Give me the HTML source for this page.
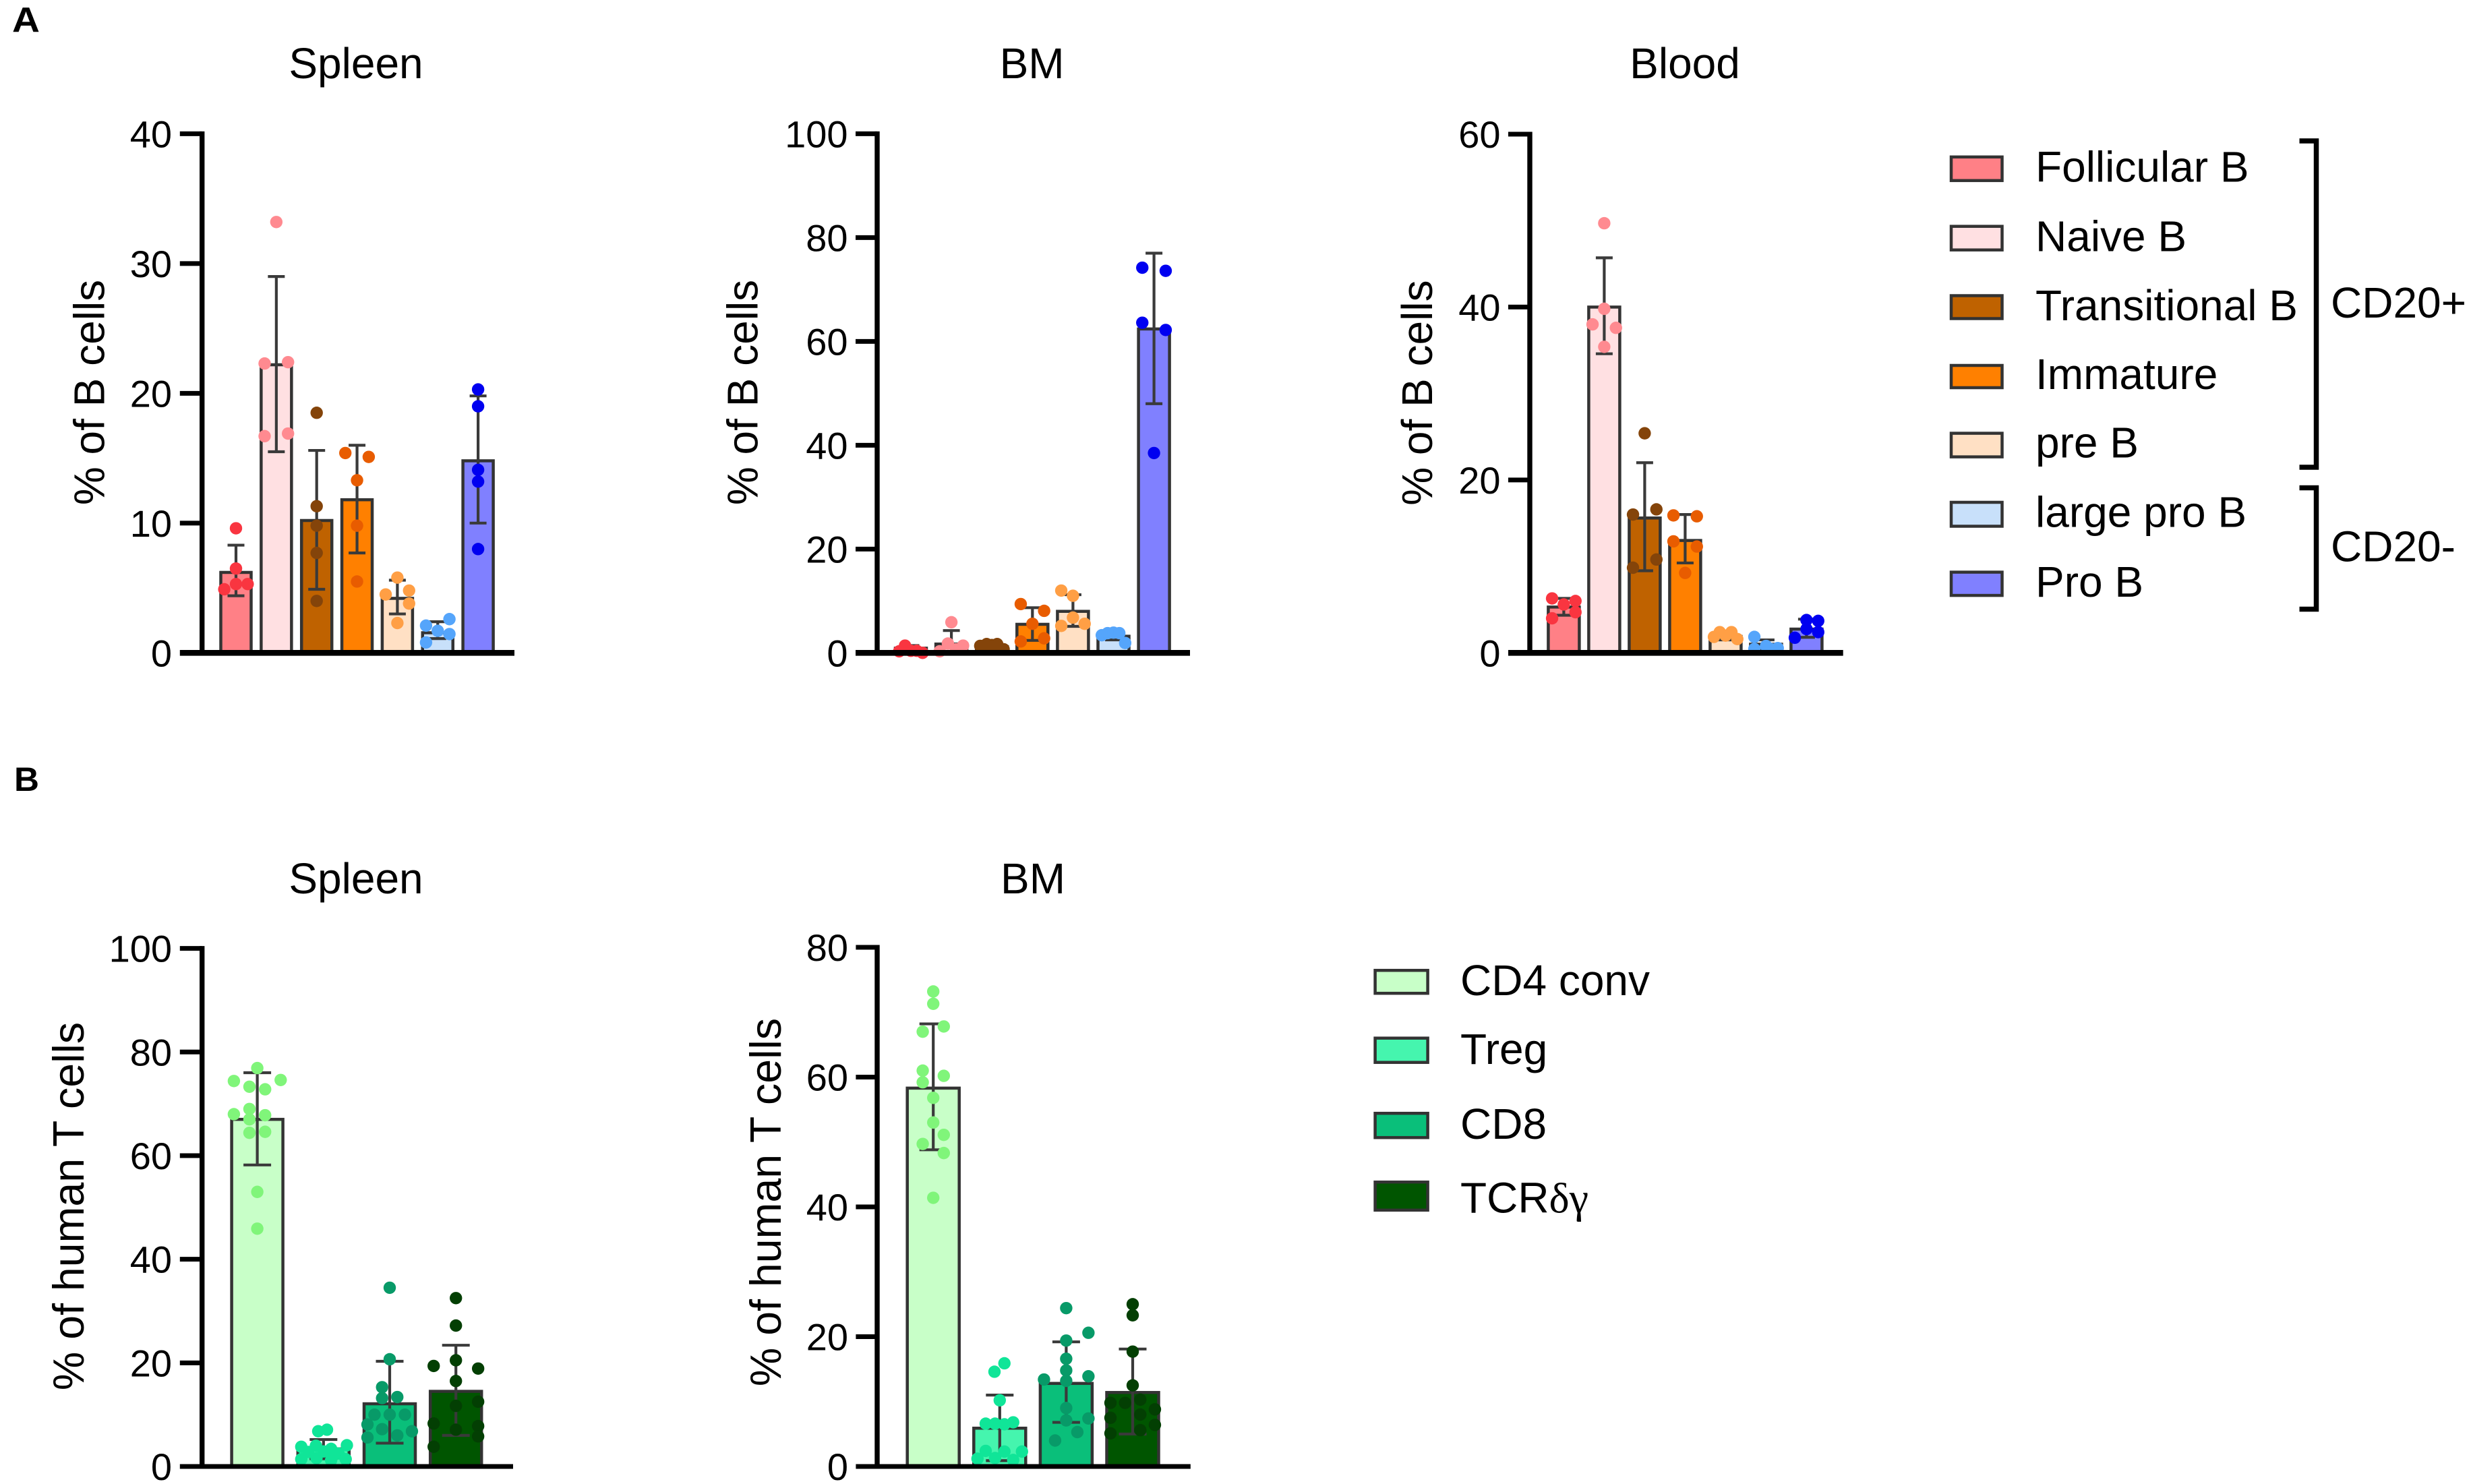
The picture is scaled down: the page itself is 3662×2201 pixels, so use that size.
<!DOCTYPE html>
<html lang="en">
<head>
<meta charset="utf-8">
<title>B and T cell subsets by organ</title>
<style>
html,body{margin:0;padding:0;background:#fff;width:3662px;height:2201px;overflow:hidden}
svg{display:block;font-family:"Liberation Sans",Arial,sans-serif;fill:#000}
.leg{font-size:64px}
.sw{stroke:#333;stroke-width:4.5}
.brk{fill:none;stroke:#000;stroke-width:7.5}
</style>
</head>
<body>
<svg id="fig" xmlns="http://www.w3.org/2000/svg" width="3662" height="2201" viewBox="0 0 3662 2201">
  <rect width="3662" height="2201" fill="#fff"/>
  <text x="18" y="47" font-size="52" font-weight="700" textLength="41" lengthAdjust="spacingAndGlyphs">A</text>
  <text x="21" y="1173" font-size="50" font-weight="700" textLength="37" lengthAdjust="spacingAndGlyphs">B</text>

  <g>
    <g><rect class="sw" x="2894" y="232.8" width="75.5" height="35" fill="#ff8086"/><text class="leg" x="3019" y="269.4">Follicular B</text></g>
    <g><rect class="sw" x="2894" y="335.7" width="75.5" height="35" fill="#ffe0e2"/><text class="leg" x="3019" y="372.3">Naive B</text></g>
    <g><rect class="sw" x="2894" y="438.5" width="75.5" height="34" fill="#bf6200"/><text class="leg" x="3019" y="474.8">Transitional B</text></g>
    <g><rect class="sw" x="2894" y="542" width="75.5" height="33" fill="#ff8000"/><text class="leg" x="3019" y="576.8">Immature</text></g>
    <g><rect class="sw" x="2894" y="642.6" width="75.5" height="35" fill="#ffe0c4"/><text class="leg" x="3019" y="678.7">pre B</text></g>
    <g><rect class="sw" x="2894" y="745" width="75.5" height="35.5" fill="#c8e0fa"/><text class="leg" x="3019" y="781.7">large pro B</text></g>
    <g><rect class="sw" x="2894" y="848.6" width="75.5" height="34.5" fill="#8080ff"/><text class="leg" x="3019" y="885.2">Pro B</text></g>
    <path class="brk" d="M3410.5 209 H3435.5 V693 H3410.5"/>
    <path class="brk" d="M3410.5 723.5 H3435.5 V903.5 H3410.5"/>
    <text class="leg" x="3457" y="470.8">CD20+</text>
    <text class="leg" x="3457" y="832.4">CD20-</text>
  </g>

  <g>
    <g><rect class="sw" x="2039.6" y="1439.2" width="78" height="34" fill="#c8ffc8"/><text class="leg" x="2166" y="1476">CD4 conv</text></g>
    <g><rect class="sw" x="2039.6" y="1539.7" width="78" height="36" fill="#45f5ae"/><text class="leg" x="2166" y="1578">Treg</text></g>
    <g><rect class="sw" x="2039.6" y="1651.2" width="78" height="36" fill="#0abf7a"/><text class="leg" x="2166" y="1689">CD8</text></g>
    <g><rect class="sw" x="2039.6" y="1753.2" width="78" height="41.6" fill="#005500"/><text class="leg" x="2166" y="1798.5">TCR<tspan style="font-family:'Liberation Serif',serif">δγ</tspan></text></g>
  </g>
</svg>

<script>
// ---------- chart data ----------
const bCategories = ['Follicular B','Naive B','Transitional B','Immature','pre B','large pro B','Pro B'];
const tCategories = ['CD4 conv','Treg','CD8','TCRdg'];

const spleenBTicks = [0,10,20,30,40];
const spleenBMeans = [6.2,22.2,10.2,11.8,4.2,1.55,14.8];
const spleenBHigh  = [8.3,29,15.6,16,5.6,2.4,19.8];
const spleenBLow   = [4.4,15.5,4.9,7.7,3,1.1,10];
const spleenBPoints = [[9.6,6.5,5.3,4.9,5.3],[33.2,22.3,22.4,16.7,16.9],[18.5,11.3,9.8,7.7,4],[15.4,15.1,13.3,9.8,5.5],[5.8,4.8,4.5,3.8,2.3],[2.6,2.1,1.7,1.45,0.8],[20.3,19,14.1,13.2,8]];
const spleenBSwarm  = [[0,0,0,-1,1],[0,-1,1,-1,1],[0,0,0,0,0],[-1,1,0,0,0],[0,1,-1,1,0],[1,-1,0,1,-1],[0,0,0,0,0]];

const bmBTicks = [0,20,40,60,80,100];
const bmBMeans = [0.9,1.7,1.2,5.5,8,3.2,62.4];
const bmBHigh  = [1.4,4.3,1.6,8.7,11.2,3.8,77];
const bmBLow   = [0.3,0,0.8,2.4,5.1,2.5,48];
const bmBPoints = [[0.3,1.4,0.4,0.4,0],[5.9,0.3,1.8,0.7,1.4],[1.35,1.7,1.5,1.7,0.7],[9.4,8.1,5.6,2.2,2.8],[12,11,6.8,5.2,5.6],[3.4,3.8,3.9,3.8,1.9],[74.2,73.6,63.6,62.2,38.5]];
const bmBSwarm  = [[-1,-0.5,0,0.5,1],[0,-1,-0.3,0.4,1],[-1,-0.45,0,0.45,1],[-1,1,0,-1,1],[-1,0,0,-1,1],[-1,-0.5,0,0.5,1],[-1,1,-1,1,0]];

const bloodBTicks = [0,20,40,60];
const bloodBMeans = [5.3,40,15.6,13,1.9,1,2.75];
const bloodBHigh  = [6.3,45.7,22,16,2.3,1.5,3.9];
const bloodBLow   = [4.35,34.6,9.5,10.4,1.5,0.4,1.8];
const bloodBPoints = [[6.3,6,5.6,4.7,4],[49.7,39.8,38,37.6,35.4],[25.4,16,16.6,10.8,9.85],[15.9,15.8,12.9,12.3,9.25],[1.85,2.4,2.4,1.6,2],[1.85,0.45,0.8,0.55,0.45],[3.8,3.7,2.75,2.4,1.75]];
const bloodBSwarm  = [[-1,1,0,1,-1],[0,0,-1,1,0],[0,-1,1,1,-1],[-1,1,-1,1,0],[-1,-0.5,0.5,1,0],[-1,-1,0,1,0.4],[0,1,0,1,-1]];

const spleenTTicks = [0,20,40,60,80,100];
const spleenTMeans = [67,3.4,12.1,14.5];
const spleenTHigh  = [76,5.2,20.3,23.4];
const spleenTLow   = [58.2,1.5,4.5,6];
const spleenTPoints = [[76.9,74.4,74.6,73.3,72.8,69,68,67.8,67,64.4,64.6,53,45.9],[6.8,7.1,3.8,4,4.1,3.4,2.8,2.9,1.4,2.5,1.6,1.2,1.4],[34.5,20.7,15.3,13.2,13.4,10,10,10,7.2,8.1,5.6,6,6.8],[32.5,27.2,19.4,18.9,20.5,16.5,11.7,12.5,8.3,7.8,7.1,5.8,3.8]];
const spleenTSwarm  = [[0,-2,2,-0.67,0.67,-0.67,-2,0.67,-0.67,-0.67,0.67,0,0],[-0.45,0.3,-1.9,-0.65,2,0.65,-1.3,0,-1.9,1.3,-0.6,0.65,1.9],[0,0,-0.65,-0.65,0.65,0,-1.3,1.3,-0.65,-1.9,-1.9,0.65,1.9],[0,0,-1.9,1.9,0,0,0,1.9,-1.9,1.9,0,1.9,-1.9]];

const bmTTicks = [0,20,40,60,80];
const bmTMeans = [58.3,5.9,12.8,11.4];
const bmTHigh  = [68.2,11,19.2,18.1];
const bmTLow   = [48.8,0.9,6.8,5];
const bmTPoints = [[73.2,71.3,67.8,67,61,60.2,59.2,56.8,53,51.1,49.7,48.3,41.4],[15.9,14.6,10.2,6.6,6.6,6.5,6.8,2.4,2.3,2.3,1.2,1.3,1],[24.4,20.6,19.4,16.6,14.8,13.4,13.2,13.9,9,7.1,7.4,5.3,4],[25,23.3,17.7,12.5,9.8,9.8,10.3,8.8,7.5,8,6.4,5.6,5.1]];
const bmTSwarm  = [[0,0,0.9,-0.9,-0.9,0.9,-0.9,0,0,0.9,-0.9,0.9,0],[0.4,-0.45,0,-1.2,-0.4,0.4,1.15,-1.2,0.4,1.9,-1.9,-0.4,1.15],[0,1.9,0,0,0,-1.9,0,1.9,0,0,1.9,0.95,-0.95],[0,0,0,0,-1.9,-0.65,0.65,1.9,-1.9,0.65,1.9,0.65,-1.9]];

// ---------- series colours ----------
const bFills = ['#ff8086','#ffe0e2','#bf6200','#ff8000','#ffe0c4','#c8e0fa','#8080ff'];
const bDots  = ['#f93540','#ff8a90','#84440a','#e85c00','#ff9f45','#55a5fb','#0000f0'];
const tFills = ['#c8ffc8','#45f5ae','#0abf7a','#005500'];
const tDots  = ['#80f57a','#10e598','#089a68','#033f03'];

// ---------- drawing ----------
const NS = 'http://www.w3.org/2000/svg';
const fig = document.getElementById('fig');
function mk(parent, tag, attrs, txt){
  const el = document.createElementNS(NS, tag);
  for (const k in attrs) el.setAttribute(k, attrs[k]);
  if (txt !== undefined) el.textContent = txt;
  parent.appendChild(el);
  return el;
}
function slug(s){ return s.toLowerCase().replace(/[^a-z0-9]+/g,'-'); }

function drawPanel(p){
  const yMax = p.ticks[p.ticks.length-1];
  const yAxis = v => p.base - (v / yMax) * (p.base - p.top);
  const xAxis = i => p.first + i * p.step;

  const g = mk(fig, 'g', {});
  
  

  // title
  const title = mk(g, 'text', {x:p.titleX, y:p.titleY, 'font-size':64, 'text-anchor':'middle'}, p.title);
  
  

  // y axis title
  const yt = mk(g, 'text', {transform:`translate(${p.labelX},${p.labelY}) rotate(-90)`, 'font-size':p.labelSize, 'text-anchor':'middle'}, p.label);
  
  

  // bars (behind axis), error bars, points
  p.means.forEach((m, i) => {
    const cx = xAxis(i);
    const cat = slug(p.cats[i]);
    const series = mk(g, 'g', {});
    
    

    const bar = mk(series, 'rect', {x:cx-p.barW/2+2, y:yAxis(m), width:p.barW-4, height:Math.max(0,p.base-yAxis(m)), fill:p.fills[i], stroke:'#333', 'stroke-width':4.5});
    
    

    const err = mk(series, 'path', {d:`M${cx} ${yAxis(p.high[i])}V${yAxis(p.low[i])}M${cx-p.capW/2} ${yAxis(p.high[i])}h${p.capW}M${cx-p.capW/2} ${yAxis(p.low[i])}h${p.capW}`, fill:'none', stroke:'#3a3a3a', 'stroke-width':4.2});
    
    

    p.points[i].forEach((v, j) => {
      const dot = mk(series, 'circle', {cx:cx + p.swarm[i][j] * 17.35, cy:yAxis(v), r:9.2, fill:p.dots[i]});
      
      
    });
  });

  // axes
  const ya = mk(g, 'line', {x1:p.axisX, x2:p.axisX, y1:p.top-3.5, y2:p.base, stroke:'#000', 'stroke-width':7.4});
  
  
  const xa = mk(g, 'line', {x1:p.left, x2:p.right, y1:p.base, y2:p.base, stroke:'#000', 'stroke-width':p.baseW});
  
  

  p.ticks.forEach(t => {
    const y = yAxis(t);
    if (t !== 0) {
      const tk = mk(g, 'line', {x1:p.left, x2:p.axisX, y1:y, y2:y, stroke:'#000', 'stroke-width':7});
      
      
    }
    const lb = mk(g, 'text', {x:p.tickX, y:y+20, 'font-size':56, 'text-anchor':'end'}, String(t));
    
    
  });
}

drawPanel({name:'b-cells-spleen', title:'Spleen', titleX:528, titleY:116, label:'% of B cells', labelX:154.6, labelY:582, labelSize:64,
  cats:bCategories, ticks:spleenBTicks, means:spleenBMeans, high:spleenBHigh, low:spleenBLow, points:spleenBPoints, swarm:spleenBSwarm, fills:bFills, dots:bDots,
  axisX:299.7, left:266.8, right:763, top:198.4, base:968.3, baseW:8.7, first:350, step:59.85, barW:49, capW:25, tickX:255});

drawPanel({name:'b-cells-bm', title:'BM', titleX:1530.6, titleY:116, label:'% of B cells', labelX:1123.5, labelY:582, labelSize:64,
  cats:bCategories, ticks:bmBTicks, means:bmBMeans, high:bmBHigh, low:bmBLow, points:bmBPoints, swarm:bmBSwarm, fills:bFills, dots:bDots,
  axisX:1301, left:1269, right:1765, top:198.4, base:968.3, baseW:8.7, first:1351, step:60.1, barW:50, capW:25, tickX:1257.5});

drawPanel({name:'b-cells-blood', title:'Blood', titleX:2499, titleY:116, label:'% of B cells', labelX:2124, labelY:582.6, labelSize:64,
  cats:bCategories, ticks:bloodBTicks, means:bloodBMeans, high:bloodBHigh, low:bloodBLow, points:bloodBPoints, swarm:bloodBSwarm, fills:bFills, dots:bDots,
  axisX:2269, left:2237, right:2733.7, top:199, base:968.3, baseW:8.7, first:2319.4, step:60, barW:50, capW:25, tickX:2225.5});

drawPanel({name:'t-cells-spleen', title:'Spleen', titleX:528, titleY:1325, label:'% of human T cells', labelX:124, labelY:1789, labelSize:64.5,
  cats:tCategories, ticks:spleenTTicks, means:spleenTMeans, high:spleenTHigh, low:spleenTLow, points:spleenTPoints, swarm:spleenTSwarm, fills:tFills, dots:tDots,
  axisX:299.7, left:266.8, right:761, top:1406.6, base:2175, baseW:7, first:381.6, step:98.2, barW:80, capW:41, tickX:255});

drawPanel({name:'t-cells-bm', title:'BM', titleX:1532, titleY:1325, label:'% of human T cells', labelX:1158, labelY:1783, labelSize:64.5,
  cats:tCategories, ticks:bmTTicks, means:bmTMeans, high:bmTHigh, low:bmTLow, points:bmTPoints, swarm:bmTSwarm, fills:tFills, dots:tDots,
  axisX:1301, left:1269.4, right:1765.8, top:1405, base:2175, baseW:7, first:1384.2, step:98.6, barW:81, capW:41, tickX:1258});
</script>
</body>
</html>
